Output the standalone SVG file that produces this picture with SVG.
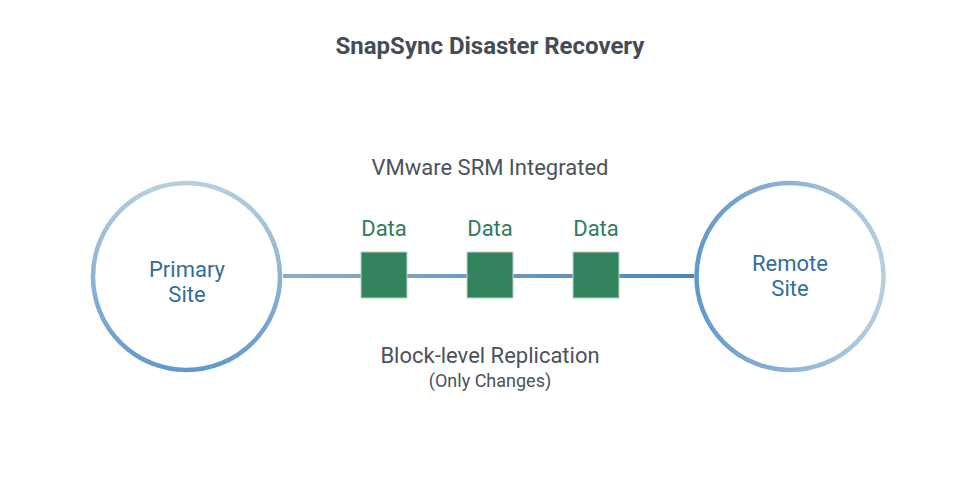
<svg xmlns="http://www.w3.org/2000/svg" width="980" height="500" viewBox="0 0 980 500">
<style>
.t{font-family:Roboto,"Liberation Sans",sans-serif;text-anchor:middle}
.title{font-size:24px;font-weight:bold;fill:#454c55}
.lbl{font-size:22px;fill:#4b525b}
.sub{font-size:18px;fill:#4b525b}
.site{font-size:22px;fill:#336d9c}
.data{font-size:22px;fill:#2f7d5a}
.blk{fill:#33835f;stroke:#b9d8c6;stroke-width:1}
</style>
<defs>
<linearGradient id="gL" x1="0" y1="0" x2="0" y2="1">
<stop offset="0" stop-color="#b6cedf"/>
<stop offset="1" stop-color="#6299cc"/>
</linearGradient>
<linearGradient id="gR" x1="0" y1="0" x2="1" y2="0">
<stop offset="0" stop-color="#6299cc"/>
<stop offset="1" stop-color="#b6cedf"/>
</linearGradient>
<linearGradient id="gLine" gradientUnits="userSpaceOnUse" x1="283" y1="0" x2="694" y2="0">
<stop offset="0" stop-color="#8eadc8"/>
<stop offset="1" stop-color="#4a86ba"/>
</linearGradient>
</defs>
<rect width="980" height="500" fill="#ffffff"/>
<text class="t title" x="490" y="54">SnapSync Disaster Recovery</text>
<text class="t lbl" x="490" y="175">VMware SRM Integrated</text>
<g id="connectors">
<line x1="283" y1="276" x2="694" y2="276" stroke="url(#gLine)" stroke-width="4"/>
</g>
<g id="primary">
<circle cx="186.5" cy="276.5" r="93.5" fill="#ffffff" stroke="url(#gL)" stroke-width="4.5"/>
<text class="t site" x="187" y="277">Primary</text>
<text class="t site" x="187" y="302">Site</text>
</g>
<g id="remote">
<circle cx="790" cy="276.5" r="93.5" fill="#ffffff" stroke="url(#gR)" stroke-width="4.5"/>
<text class="t site" x="790" y="271">Remote</text>
<text class="t site" x="790" y="296">Site</text>
</g>
<g id="data1">
<text class="t data" x="384" y="236">Data</text>
<rect class="blk" x="361" y="252" width="46" height="46"/>
</g>
<g id="data2">
<text class="t data" x="490" y="236">Data</text>
<rect class="blk" x="467" y="252" width="46" height="46"/>
</g>
<g id="data3">
<text class="t data" x="596" y="236">Data</text>
<rect class="blk" x="573" y="252" width="46" height="46"/>
</g>
<text class="t lbl" x="490" y="363">Block-level Replication</text>
<text class="t sub" x="490" y="387">(Only Changes)</text>
</svg>
